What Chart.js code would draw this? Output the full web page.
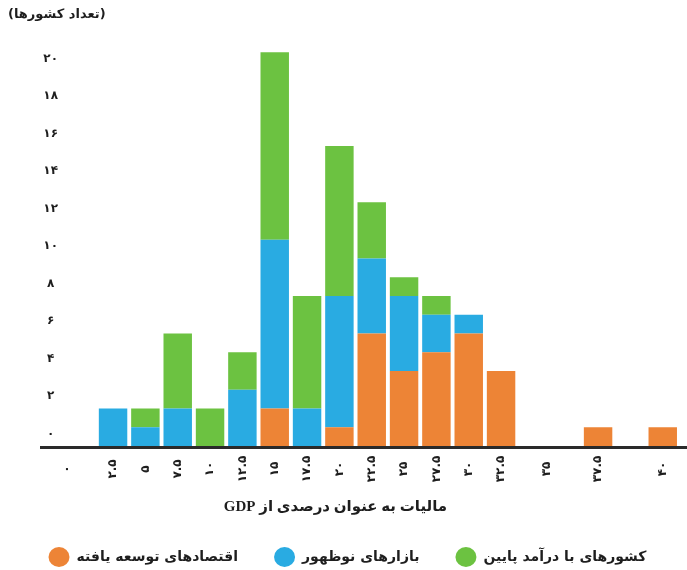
<!DOCTYPE html>
<html>
<head>
<meta charset="utf-8">
<script src="https://cdn.jsdelivr.net/npm/chart.js@4.4.1/dist/chart.umd.min.js"></script>
<style>
  html, body { margin: 0; padding: 0; background: #ffffff; }
  #wrap { width: 687px; height: 570px; position: relative; }
</style>
</head>
<body>
<div id="wrap"><canvas id="chart"></canvas></div>
<script>
// ---- data ----
// bins 1..18 along the horizontal axis (bins 14, 15 and 17 are empty)
const developed = [0, 0, 0, 0, 0, 2, 0, 1, 6, 4, 5, 6, 4, 0, 0, 1, 0, 1];
const emerging  = [2, 1, 2, 0, 3, 9, 2, 7, 4, 4, 2, 1, 0, 0, 0, 0, 0, 0];
const lowIncome = [0, 1, 4, 2, 2, 10, 6, 8, 3, 1, 1, 0, 0, 0, 0, 0, 0, 0];

const seriesNames = ['اقتصادهای توسعه یافته', 'بازارهای نوظهور', 'کشورهای با درآمد پایین'];
const seriesColors = ['#ED8436', '#29ABE2', '#6CC241'];

// horizontal tick labels and where (in bin units) they sit
const xTickLabels = ['۰', '۲.۵', '۵', '۷.۵', '۱۰', '۱۲.۵', '۱۵', '۱۷.۵', '۲۰', '۲۲.۵', '۲۵', '۲۷.۵', '۳۰', '۳۲.۵', '۳۵', '۳۷.۵', '۴۰'];
const xTickAt     = [-0.42, 1, 2, 3, 4, 5, 6, 7, 8, 9, 10, 11, 12, 13, 14.42, 16, 18];

const yTicks = [0, 2, 4, 6, 8, 10, 12, 14, 16, 18, 20];

const yTitle = '(تعداد کشورها)';
const xTitle = 'مالیات به عنوان درصدی از GDP';

// ---- helpers ----
const faDigits = '۰۱۲۳۴۵۶۷۸۹';
const toFa = (n) => String(n).replace(/\d/g, d => faDigits[+d]);
const toPoints = (arr) => arr.map((v, i) => ({ x: i + 1, y: v }));

const FONT = "'DejaVu Sans', sans-serif";

// draws the base line, rotated x tick labels and x title
const decorations = {
  id: 'decorations',
  afterDatasetsDraw(chart) {
    const { ctx, chartArea, scales } = chart;
    const xs = scales.x, ys = scales.y;
    const y0 = ys.getPixelForValue(0);
    ctx.save();
    // base line
    ctx.strokeStyle = '#2a2a2a';
    ctx.lineWidth = 3;
    ctx.beginPath();
    ctx.moveTo(40, y0 + 1.5);
    ctx.lineTo(chartArea.right, y0 + 1.5);
    ctx.stroke();
    // tick labels (rotated)
    ctx.fillStyle = '#1e1e1e';
    ctx.font = 'bold 12px ' + FONT;
    ctx.textAlign = 'center';
    ctx.textBaseline = 'middle';
    xTickLabels.forEach((lab, i) => {
      const px = xs.getPixelForValue(xTickAt[i]);
      ctx.save();
      ctx.translate(px, y0 + 23);
      ctx.rotate(-Math.PI / 2);
      ctx.fillText(lab, 0, 0);
      ctx.restore();
    });
    // axis title
    ctx.font = "bold 15px 'Liberation Serif', " + FONT;
    ctx.direction = 'rtl';
    ctx.textAlign = 'center';
    ctx.fillText(xTitle, (chartArea.left + chartArea.right) / 2 - 40, y0 + 61);
    ctx.restore();
  }
};

new Chart(document.getElementById('chart'), {
  type: 'bar',
  data: {
    datasets: [
      { label: seriesNames[0], data: toPoints(developed), backgroundColor: seriesColors[0] },
      { label: seriesNames[1], data: toPoints(emerging),  backgroundColor: seriesColors[1] },
      { label: seriesNames[2], data: toPoints(lowIncome), backgroundColor: seriesColors[2] }
    ]
  },
  options: {
    responsive: true,
    maintainAspectRatio: false,
    animation: false,
    layout: { padding: { left: 8, right: 0, top: 0, bottom: 0 } },
    datasets: { bar: { barPercentage: 0.88, categoryPercentage: 1, borderWidth: 0 } },
    scales: {
      x: {
        type: 'linear',
        stacked: true,
        offset: false,
        min: -0.517,
        max: 18.75,
        grid: { display: false, drawTicks: false },
        border: { display: false },
        ticks: { display: false },
        afterBuildTicks: (s) => { s.ticks = xTickAt.map(v => ({ value: v })); },
        afterFit: (s) => { s.height = 68; }
      },
      y: {
        stacked: true,
        min: 0,
        max: 22,
        grid: { display: false, drawTicks: false },
        border: { display: false },
        afterBuildTicks: (s) => { s.ticks = yTicks.map(v => ({ value: v })); },
        afterFit: (s) => { s.width = 56; },
        ticks: {
          crossAlign: 'center',
          padding: 6,
          labelOffset: -12.5,
          color: '#1e1e1e',
          font: { family: FONT, size: 12, weight: 'bold' },
          callback: (v) => toFa(v)
        }
      }
    },
    plugins: {
      tooltip: { enabled: false },
      title: {
        display: true,
        text: yTitle,
        align: 'start',
        color: '#1e1e1e',
        font: { family: FONT, size: 13, weight: 'bold' },
        padding: { top: 7, bottom: 11 }
      },
      legend: {
        position: 'bottom',
        maxHeight: 56,
        labels: {
          usePointStyle: true,
          pointStyle: 'circle',
          boxHeight: 14,
          pointStyleWidth: 21,
          padding: 36,
          color: '#1e1e1e',
          font: { family: FONT, size: 14, weight: 'bold' }
        }
      }
    }
  },
  plugins: [decorations]
});
</script>
</body>
</html>
